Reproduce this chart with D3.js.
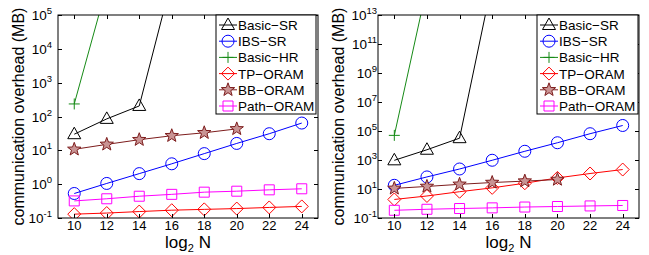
<!DOCTYPE html>
<html>
<head>
<meta charset="utf-8">
<script src="https://cdn.jsdelivr.net/npm/d3@7"></script>
<style>
  body { margin: 0; background: #fff; }
  svg { font-family: "Liberation Sans", Arial, sans-serif; }
</style>
</head>
<body>
<div id="chart"></div>
<script>
// x values (log2 N)
var nAll = [10, 12, 14, 16, 18, 20, 22, 24];
var nBasicSR = [10, 12, 14, 16];
var nBasicHR = [10, 12];
var nBB = [10, 12, 14, 16, 18, 20];
var xTicks = [10, 12, 14, 16, 18, 20, 22, 24];

// left panel values (MB)
var basicSR_L = [30, 85, 205, 1.1e6];
var ibsSR_L = [0.53, 1.05, 2.05, 4, 8, 16, 31, 64];
var basicHR_L = [235, 7e5];
var tpORAM_L = [0.13, 0.14, 0.155, 0.17, 0.18, 0.19, 0.205, 0.22];
var bbORAM_L = [10.7, 15, 20.6, 27, 33, 43];
var pathORAM_L = [0.32, 0.37, 0.44, 0.5, 0.58, 0.62, 0.68, 0.73];

// right panel values (MB)
var basicSR_R = [950, 5100, 3.2e4, 1.8e15];
var ibsSR_R = [18, 68, 240, 960, 4000, 15500, 65000, 2.4e5];
var basicHR_R = [5e4, 8.7e14];
var tpORAM_R = [1.9, 3.3, 6.5, 12, 25, 58, 117, 220];
var bbORAM_R = [11, 15, 21, 28, 35, 45];
var pathORAM_R = [0.34, 0.4, 0.45, 0.5, 0.57, 0.62, 0.68, 0.73];

var yExpL = [-1, 0, 1, 2, 3, 4, 5];
var yExpR = [-1, 1, 3, 5, 7, 9, 11, 13];

var seriesNames = ["Basic\u2212SR", "IBS\u2212SR", "Basic\u2212HR", "TP\u2212ORAM", "BB\u2212ORAM", "Path\u2212ORAM"];

var svgWidth = 649, svgHeight = 255;
var svg = d3.select("#chart").append("svg")
  .attr("width", svgWidth)
  .attr("height", svgHeight);

// marker shapes
function markerPath(type) {
  if (type == "tri") return "M0,-7L6.5,4.5L-6.5,4.5Z";
  if (type == "dia") return "M0,-6.5L6.5,0L0,6.5L-6.5,0Z";
  if (type == "sq") return "M-5,-5L5,-5L5,5L-5,5Z";
  if (type == "plus") return "M-5.5,0L5.5,0M0,-5.5L0,5.5";
  if (type == "star") {
    var pts = [];
    for (var i = 0; i < 10; i++) {
      var r = i % 2 == 0 ? 7 : 2.9;
      var a = -Math.PI / 2 + i * Math.PI / 5;
      pts.push([r * Math.cos(a), r * Math.sin(a)]);
    }
    return "M" + pts.map(p => p[0].toFixed(2) + "," + p[1].toFixed(2)).join("L") + "Z";
  }
  return null;
}

var styles = [
  { color: "#000000", marker: "tri", fill: "none" },
  { color: "#0000ff", marker: "circ", fill: "none" },
  { color: "#168a16", marker: "plus", fill: "none" },
  { color: "#ff0000", marker: "dia", fill: "none" },
  { color: "#7d1c1c", marker: "star", fill: "#c99494" },
  { color: "#ff00ff", marker: "sq", fill: "none" }
];

function drawMarker(g, type, x, y, color, fill) {
  if (type == "circ") {
    g.append("circle").attr("cx", x).attr("cy", y).attr("r", 6)
      .attr("fill", "none").attr("stroke", color).attr("stroke-width", 1);
  } else {
    g.append("path").attr("d", markerPath(type))
      .attr("transform", `translate(${x},${y})`)
      .attr("fill", fill).attr("stroke", color).attr("stroke-width", 1);
  }
}

function drawPanel(cfg) {
  var x = d3.scaleLinear().domain([9, 25]).range([cfg.left, cfg.right]);
  var y = d3.scaleLog().domain(cfg.yDomain).range([cfg.bottom, cfg.top]);

  var clipId = "clip" + cfg.id;
  svg.append("clipPath").attr("id", clipId)
    .append("rect")
    .attr("x", cfg.left).attr("y", cfg.top)
    .attr("width", cfg.right - cfg.left).attr("height", cfg.bottom - cfg.top);

  var plot = svg.append("g").attr("clip-path", `url(#${clipId})`);

  var line = d3.line().x(d => x(d[0])).y(d => y(d[1]));

  cfg.series.forEach(function(s, i) {
    var pts = s.xs.map((v, k) => [v, s.ys[k]]);
    plot.append("path")
      .attr("d", line(pts))
      .attr("fill", "none")
      .attr("stroke", styles[i].color)
      .attr("stroke-width", 1);
    var mg = plot.append("g");
    pts.forEach(function(p) {
      drawMarker(mg, styles[i].marker, x(p[0]), y(p[1]), styles[i].color, styles[i].fill);
    });
  });

  // axes box
  svg.append("rect")
    .attr("x", cfg.left).attr("y", cfg.top)
    .attr("width", cfg.right - cfg.left).attr("height", cfg.bottom - cfg.top)
    .attr("fill", "none").attr("stroke", "#000").attr("stroke-width", 1);

  // x ticks (inward, bottom and top)
  var tl = 4;
  xTicks.forEach(function(t) {
    var xp = Math.round(x(t)) + 0.5;
    svg.append("line").attr("x1", xp).attr("x2", xp)
      .attr("y1", cfg.bottom).attr("y2", cfg.bottom - tl).attr("stroke", "#000");
    svg.append("line").attr("x1", xp).attr("x2", xp)
      .attr("y1", cfg.top).attr("y2", cfg.top + tl).attr("stroke", "#000");
    svg.append("text")
      .attr("x", x(t)).attr("y", cfg.bottom + 12)
      .attr("text-anchor", "middle")
      .attr("font-size", "13px")
      .text(t);
  });

  // y ticks (inward, left and right)
  cfg.yExp.forEach(function(e) {
    var yp = Math.round(y(Math.pow(10, e))) + 0.5;
    svg.append("line").attr("x1", cfg.left).attr("x2", cfg.left + tl)
      .attr("y1", yp).attr("y2", yp).attr("stroke", "#000");
    svg.append("line").attr("x1", cfg.right).attr("x2", cfg.right - tl)
      .attr("y1", yp).attr("y2", yp).attr("stroke", "#000");
    var lbl = svg.append("text")
      .attr("x", cfg.left - cfg.labelGap)
      .attr("y", y(Math.pow(10, e)) + 5)
      .attr("text-anchor", "end")
      .attr("font-size", "13.5px");
    lbl.append("tspan").text("10");
    lbl.append("tspan").attr("dy", -6).attr("font-size", "9.5px")
      .text(e < 0 ? "-" + (-e) : e);
  });

  // axis labels
  var xl = svg.append("text")
    .attr("x", (cfg.left + cfg.right) / 2)
    .attr("y", 248)
    .attr("text-anchor", "middle")
    .attr("font-size", "17px");
  xl.append("tspan").text("log");
  xl.append("tspan").attr("dy", 4).attr("font-size", "11px").text("2");
  xl.append("tspan").attr("dy", -4).text(" N");

  svg.append("text")
    .attr("transform", `translate(${cfg.left - 34}, ${(cfg.top + cfg.bottom) / 2}) rotate(-90)`)
    .attr("text-anchor", "middle")
    .attr("font-size", "16px")
    .text("communication overhead (MB)");

  // legend
  var lg = svg.append("g");
  lg.append("rect")
    .attr("x", cfg.legX).attr("y", cfg.top)
    .attr("width", cfg.legW).attr("height", 99)
    .attr("fill", "#fff").attr("stroke", "#000").attr("stroke-width", 1);
  seriesNames.forEach(function(name, i) {
    var ly = cfg.top + 10 + i * 16.2;
    lg.append("line")
      .attr("x1", cfg.legX + 3).attr("x2", cfg.legX + 21)
      .attr("y1", ly).attr("y2", ly)
      .attr("stroke", styles[i].color).attr("stroke-width", 1);
    drawMarker(lg, styles[i].marker, cfg.legX + 12, ly, styles[i].color, styles[i].fill);
    lg.append("text")
      .attr("x", cfg.legX + 22).attr("y", ly + 5)
      .attr("font-size", "13.5px")
      .text(name);
  });
}

drawPanel({
  id: "L", left: 58, right: 318, top: 15, bottom: 218,
  yDomain: [0.1, 1e5], yExp: yExpL, labelGap: 6,
  legX: 216, legW: 100,
  series: [
    { xs: nBasicSR, ys: basicSR_L },
    { xs: nAll, ys: ibsSR_L },
    { xs: nBasicHR, ys: basicHR_L },
    { xs: nAll, ys: tpORAM_L },
    { xs: nBB, ys: bbORAM_L },
    { xs: nAll, ys: pathORAM_L }
  ]
});

drawPanel({
  id: "R", left: 378, right: 639, top: 15, bottom: 218,
  yDomain: [0.1, 1e13], yExp: yExpR, labelGap: 1,
  legX: 537, legW: 101,
  series: [
    { xs: nBasicSR, ys: basicSR_R },
    { xs: nAll, ys: ibsSR_R },
    { xs: nBasicHR, ys: basicHR_R },
    { xs: nAll, ys: tpORAM_R },
    { xs: nBB, ys: bbORAM_R },
    { xs: nAll, ys: pathORAM_R }
  ]
});
</script>
</body>
</html>
